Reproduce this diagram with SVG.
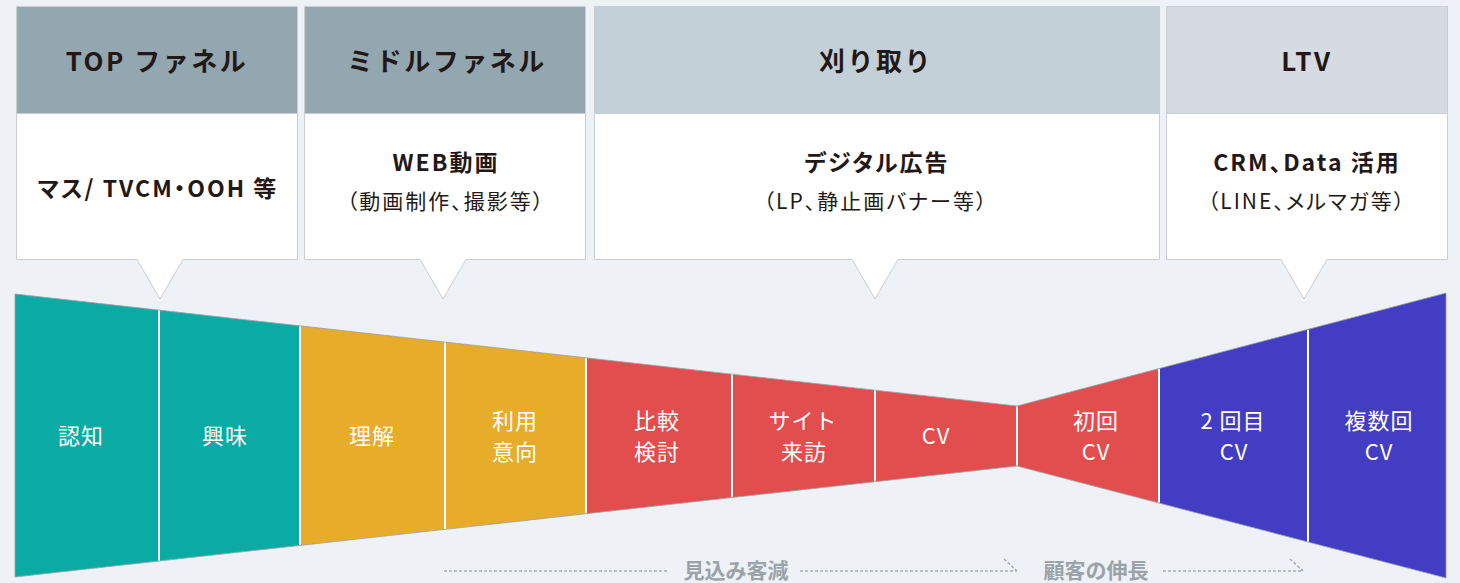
<svg xmlns="http://www.w3.org/2000/svg" width="1460" height="583" viewBox="0 0 1460 583">
<style>
.bg{fill:#eef2f7}
.box{fill:#ffffff;stroke:#c8ced3;stroke-width:1}
.hd{stroke:#c8ced3;stroke-width:1}
.h{font-family:"Noto Sans CJK JP","Noto Sans",sans-serif;font-weight:700;font-size:26px;fill:#231815;text-anchor:middle;letter-spacing:2.5px}
.m{font-family:"Noto Sans CJK JP","Noto Sans",sans-serif;font-weight:700;font-size:23px;fill:#231815;text-anchor:middle;letter-spacing:2px;font-feature-settings:"palt"}
.s{font-family:"Noto Sans CJK JP","Noto Sans",sans-serif;font-weight:400;font-size:21px;fill:#231815;text-anchor:middle;letter-spacing:2px;font-feature-settings:"palt"}
.f{font-family:"Noto Sans CJK JP","Noto Sans",sans-serif;font-weight:400;font-size:22px;fill:#ffffff;text-anchor:middle;letter-spacing:1px}
.seg{stroke:#9aa1a7;stroke-width:0.8}
.teal{fill:#0aaba4}
.yel{fill:#e8ac2b}
.red{fill:#e24d4d}
.pur{fill:#433dc3}
.div{stroke:#ffffff;stroke-width:2}
.dash{fill:none;stroke:#a5aeb3;stroke-width:1.6;stroke-dasharray:3 2}
.b{font-family:"Noto Sans CJK JP","Noto Sans",sans-serif;font-weight:700;font-size:21px;fill:#99a3a9;text-anchor:middle}
</style>
<rect class="bg" x="0" y="0" width="1460" height="583"/>

<g id="box-top">
  <path class="box" d="M16.5,6.5 H297.5 V259.5 H183 L160,299 L137,259.5 H16.5 Z"/>
  <rect class="hd" x="16.5" y="6.5" width="281" height="107" fill="#93a7b0"/>
  <text class="h" x="157" y="71">TOP ファネル</text>
  <text class="m" x="158" y="197">マス/ TVCM・OOH 等</text>
</g>
<g id="box-middle">
  <path class="box" d="M304.5,6.5 H585.5 V259.5 H466 L443,299 L420,259.5 H304.5 Z"/>
  <rect class="hd" x="304.5" y="6.5" width="281" height="107" fill="#93a7b0"/>
  <text class="h" x="447" y="71">ミドルファネル</text>
  <text class="m" x="446" y="171">WEB動画</text>
  <text class="s" x="446" y="209">（動画制作、撮影等）</text>
</g>
<g id="box-harvest">
  <path class="box" d="M594.5,6.5 H1159.5 V259.5 H898 L875,299 L852,259.5 H594.5 Z"/>
  <rect class="hd" x="594.5" y="6.5" width="565" height="107" fill="#c3d0d8"/>
  <text class="h" x="876" y="71">刈り取り</text>
  <text class="m" x="877" y="171">デジタル広告</text>
  <text class="s" x="876" y="209">（LP、静止画バナー等）</text>
</g>
<g id="box-ltv">
  <path class="box" d="M1166.5,6.5 H1447.5 V259.5 H1327 L1304,299 L1281,259.5 H1166.5 Z"/>
  <rect class="hd" x="1166.5" y="6.5" width="281" height="107" fill="#d5dbe0"/>
  <text class="h" x="1307" y="71">LTV</text>
  <text class="m" x="1307" y="171">CRM、Data 活用</text>
  <text class="s" x="1307" y="209">（LINE、メルマガ等）</text>
</g>

<g id="funnel">
  <g id="seg-ninchi"><polygon class="seg teal" points="15,294 159,310.1 159,561.05 15,577"/><text class="f" x="81" y="444">認知</text></g>
  <g id="seg-kyoumi"><polygon class="seg teal" points="159,310.1 300,325.86 300,545.43 159,561.05"/><text class="f" x="225" y="444">興味</text></g>
  <g id="seg-rikai"><polygon class="seg yel" points="300,325.86 445,342.06 445,529.37 300,545.43"/><text class="f" x="372" y="444">理解</text></g>
  <g id="seg-riyou"><polygon class="seg yel" points="445,342.06 586,357.82 586,513.75 445,529.37"/><text class="f" x="515" y="429">利用</text><text class="f" x="515" y="460">意向</text></g>
  <g id="seg-hikaku"><polygon class="seg red" points="586,357.82 732,374.14 732,497.57 586,513.75"/><text class="f" x="657" y="429">比較</text><text class="f" x="657" y="460">検討</text></g>
  <g id="seg-site"><polygon class="seg red" points="732,374.14 875,390.13 875,481.73 732,497.57"/><text class="f" x="803" y="429">サイト</text><text class="f" x="804" y="460">来訪</text></g>
  <g id="seg-cv"><polygon class="seg red" points="875,390.13 1017,406 1017,466 875,481.73"/><text class="f" x="936" y="444">CV</text></g>
  <g id="seg-first"><polygon class="seg red" points="1017,406 1159,368.6 1159,503.07 1017,466"/><text class="f" x="1096" y="429">初回</text><text class="f" x="1096" y="460">CV</text></g>
  <g id="seg-second"><polygon class="seg pur" points="1159,368.6 1308,329.35 1308,541.97 1159,503.07"/><text class="f" x="1233" y="429">2 回目</text><text class="f" x="1234" y="460">CV</text></g>
  <g id="seg-multi"><polygon class="seg pur" points="1308,329.35 1446,293 1446,578 1308,541.97"/><text class="f" x="1379" y="429">複数回</text><text class="f" x="1379" y="460">CV</text></g>
  <g id="dividers">
    <line class="div" x1="159" y1="310.6" x2="159" y2="560.6"/>
    <line class="div" x1="300" y1="326.4" x2="300" y2="545"/>
    <line class="div" x1="445" y1="342.6" x2="445" y2="528.9"/>
    <line class="div" x1="586" y1="358.3" x2="586" y2="513.3"/>
    <line class="div" x1="732" y1="374.6" x2="732" y2="497.1"/>
    <line class="div" x1="875" y1="390.6" x2="875" y2="481.3"/>
    <line class="div" x1="1017" y1="406.5" x2="1017" y2="465.5"/>
    <line class="div" x1="1159" y1="369.1" x2="1159" y2="502.6"/>
    <line class="div" x1="1308" y1="329.9" x2="1308" y2="541.5"/>
  </g>
</g>

<g id="connectors">
  <line class="dash" x1="444" y1="571" x2="668" y2="571"/>
  <path class="dash" d="M800,571 H1017 M1004,559 L1017,571"/>
  <path class="dash" d="M1163,571 H1303 M1290,559 L1303,571"/>
</g>
<g id="bottom-labels">
  <text class="b" x="736" y="578">見込み客減</text>
  <text class="b" x="1096" y="578">顧客の伸長</text>
</g>
</svg>
